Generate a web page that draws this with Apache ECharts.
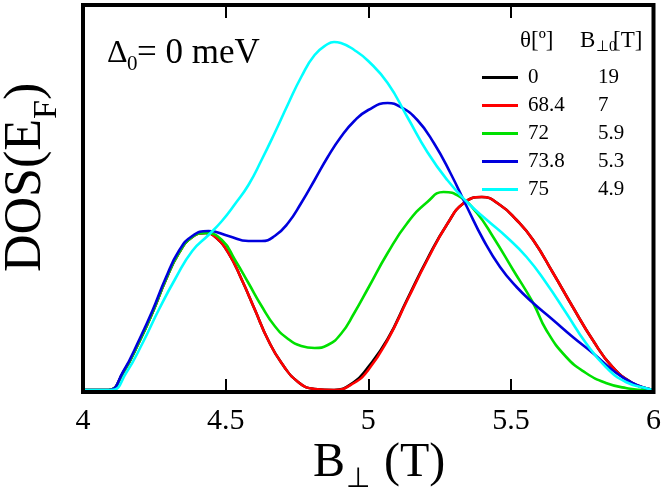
<!DOCTYPE html>
<html lang="en">

<head>
    <meta charset="UTF-8">
    <title>DOS(EF) vs B</title>
    <script src="https://cdn.jsdelivr.net/npm/echarts@6/dist/echarts.min.js"></script>
    <style>
        body,
        html {
            margin: 0;
            padding: 0;
            background: #fff;
        }

        #main {
            width: 664px;
            height: 496px;
        }
    </style>
</head>

<body>
    <div id="main"></div>
    <script>
        // legend columns
        var thetaNames = ['0', '68.4', '72', '73.8', '75'];
        var bPerp0 = ['19', '7', '5.9', '5.3', '4.9'];
        var colors = ['#000000', '#ff0000', '#00e000', '#0000dd', '#00ffff'];
        var xTicks = [4, 4.5, 5, 5.5, 6];

        // curves: [B (T), DOS in arbitrary units]
        var dos0 = [[4.0, 2], [4.09, 2], [4.14, 19], [4.2, 52], [4.243, 79], [4.29, 112], [4.336, 139], [4.383, 155], [4.43, 159], [4.464, 155], [4.51, 139], [4.557, 112], [4.603, 82], [4.649, 52], [4.696, 29], [4.754, 10], [4.812, 3], [4.88, 2], [4.95, 10], [4.997, 24], [5.068, 53], [5.137, 93], [5.207, 133], [5.277, 168], [5.335, 189], [5.398, 195], [5.462, 187], [5.52, 172], [5.578, 152], [5.648, 119], [5.717, 85], [5.787, 52], [5.856, 25], [5.926, 9], [5.984, 3], [6.0, 2]];
        var dos684 = [[4.0, 2], [4.09, 2], [4.14, 19], [4.2, 52], [4.243, 79], [4.29, 112], [4.336, 139], [4.383, 155], [4.43, 159], [4.464, 155], [4.51, 139], [4.557, 112], [4.603, 82], [4.649, 52], [4.696, 29], [4.754, 10], [4.812, 3], [4.88, 2], [4.95, 9], [5.0, 22], [5.068, 52], [5.137, 92], [5.207, 132], [5.277, 168], [5.335, 189], [5.398, 195], [5.462, 187], [5.52, 172], [5.578, 152], [5.648, 119], [5.717, 85], [5.787, 52], [5.856, 25], [5.926, 9], [5.984, 3], [6.0, 2]];
        var dos72 = [[4.0, 2], [4.09, 2], [4.14, 19], [4.2, 52], [4.243, 79], [4.29, 112], [4.336, 139], [4.383, 155], [4.43, 159], [4.487, 152], [4.533, 132], [4.58, 109], [4.626, 86], [4.672, 66], [4.719, 53], [4.765, 46], [4.812, 44], [4.858, 47], [4.904, 58], [4.951, 79], [5.0, 104], [5.068, 139], [5.137, 169], [5.207, 190], [5.264, 200], [5.322, 195], [5.381, 179], [5.438, 155], [5.508, 122], [5.578, 89], [5.624, 62], [5.694, 35], [5.763, 19], [5.833, 9], [5.903, 4], [5.98, 2], [6.0, 2]];
        var dos738 = [[4.0, 2], [4.09, 2], [4.14, 20], [4.2, 54], [4.243, 81], [4.29, 114], [4.336, 141], [4.383, 156], [4.44, 161], [4.51, 156], [4.58, 151], [4.626, 151], [4.672, 156], [4.719, 169], [4.765, 189], [4.812, 212], [4.858, 235], [4.904, 255], [4.951, 271], [5.0, 282], [5.068, 289], [5.114, 285], [5.172, 272], [5.23, 249], [5.288, 219], [5.346, 185], [5.404, 152], [5.462, 125], [5.52, 105], [5.578, 89], [5.648, 72], [5.717, 55], [5.787, 39], [5.856, 22], [5.926, 9], [5.984, 3], [6.0, 2]];
        var dos75 = [[4.0, 2], [4.1, 2], [4.151, 19], [4.209, 49], [4.267, 83], [4.325, 114], [4.383, 141], [4.44, 157], [4.487, 171], [4.533, 188], [4.58, 207], [4.626, 232], [4.672, 259], [4.719, 288], [4.765, 315], [4.812, 337], [4.858, 348], [4.88, 350], [4.904, 349], [4.951, 342], [5.0, 331], [5.068, 309], [5.137, 275], [5.207, 240], [5.277, 212], [5.346, 190], [5.416, 172], [5.485, 155], [5.555, 135], [5.624, 109], [5.694, 79], [5.763, 49], [5.833, 25], [5.903, 10], [5.984, 3], [6.0, 2]];

        var curves = [dos0, dos684, dos72, dos738, dos75];
        var serif = 'Liberation Serif';

        var series = [];
        for (var i = 0; i < curves.length; i++) {
            series.push({
                name: thetaNames[i],
                type: 'line',
                data: curves[i],
                smooth: 0.5,
                symbol: 'none',
                lineStyle: { color: colors[i], width: 2.6 },
                itemStyle: { color: colors[i] },
                silent: true,
                z: 2 + i
            });
        }

        var myChart = echarts.init(document.getElementById('main'));
        var option = {
            animation: false,
            textStyle: { fontFamily: serif },
            grid: {
                left: 83,
                right: 6,
                top: 5,
                bottom: 104,
                show: true,
                borderColor: '#000',
                borderWidth: 4,
                z: 10
            },
            xAxis: [{
                type: 'value',
                min: xTicks[0],
                max: xTicks[xTicks.length - 1],
                interval: 0.5,
                axisLine: { show: false },
                splitLine: { show: false },
                axisTick: { inside: true, length: 13, lineStyle: { color: '#000', width: 2 } },
                axisLabel: {
                    margin: 14,
                    fontSize: 30,
                    fontFamily: serif,
                    color: '#000',
                    formatter: function (v) { return String(v); }
                }
            }, {
                type: 'value',
                position: 'top',
                min: xTicks[0],
                max: xTicks[xTicks.length - 1],
                interval: 0.5,
                axisLine: { show: false },
                splitLine: { show: false },
                axisTick: { inside: true, length: 13, lineStyle: { color: '#000', width: 2 } },
                axisLabel: { show: false }
            }],
            yAxis: {
                type: 'value',
                min: 0,
                max: 387,
                show: false
            },
            legend: {
                orient: 'vertical',
                left: 477,
                top: 62,
                icon: 'rect',
                itemWidth: 36,
                itemHeight: 3,
                itemGap: 7,
                selectedMode: false,
                data: thetaNames,
                formatter: function (name) {
                    return '{a|' + name + '}{b|' + bPerp0[thetaNames.indexOf(name)] + '}';
                },
                textStyle: {
                    fontFamily: serif,
                    rich: {
                        a: { width: 70, padding: [0, 0, 0, 5], fontSize: 21, lineHeight: 20, fontFamily: serif, color: '#000' },
                        b: { fontSize: 21, lineHeight: 20, fontFamily: serif, color: '#000' }
                    }
                }
            },
            graphic: [
                // Delta_0 = 0 meV
                { type: 'text', left: 107, top: 38, style: { text: 'Δ', fontSize: 32, fontFamily: serif, fill: '#000' } },
                { type: 'text', left: 127, top: 54, style: { text: '0', fontSize: 21, fontFamily: serif, fill: '#000' } },
                { type: 'text', left: 137, top: 36, style: { text: '= 0 meV', fontSize: 35, fontFamily: serif, fill: '#000' } },
                // legend headers
                { type: 'text', left: 520, top: 29, style: { text: 'θ[º]', fontSize: 23, fontFamily: serif, fill: '#000' } },
                { type: 'text', left: 580, top: 29, style: { text: 'B', fontSize: 23, fontFamily: serif, fill: '#000' } },
                { type: 'text', left: 596, top: 40, style: { text: '⊥0', fontSize: 15, fontFamily: serif, fill: '#000' } },
                { type: 'text', left: 613, top: 29, style: { text: '[T]', fontSize: 23, fontFamily: serif, fill: '#000' } },
                // x axis title
                { type: 'text', left: 313, top: 439, style: { text: 'B', fontSize: 48, fontFamily: serif, fill: '#000' } },
                { type: 'text', left: 346, top: 466, style: { text: '⊥', fontSize: 28, fontFamily: serif, fill: '#000' } },
                { type: 'text', left: 372, top: 439, style: { text: ' (T)', fontSize: 48, fontFamily: serif, fill: '#000' } },
                // y axis title, rotated
                {
                    type: 'group',
                    x: 52,
                    y: 272,
                    rotation: Math.PI / 2,
                    children: [
                        { type: 'text', x: 0, y: 0, style: { text: 'DOS(E', fontSize: 52, fontFamily: serif, fill: '#000', verticalAlign: 'bottom' } },
                        { type: 'text', x: 153, y: 12, style: { text: 'F', fontSize: 34, fontFamily: serif, fill: '#000', verticalAlign: 'bottom' } },
                        { type: 'text', x: 172, y: 0, style: { text: ')', fontSize: 52, fontFamily: serif, fill: '#000', verticalAlign: 'bottom' } }
                    ]
                }
            ],
            series: series
        };
        myChart.setOption(option);
    </script>
</body>

</html>
